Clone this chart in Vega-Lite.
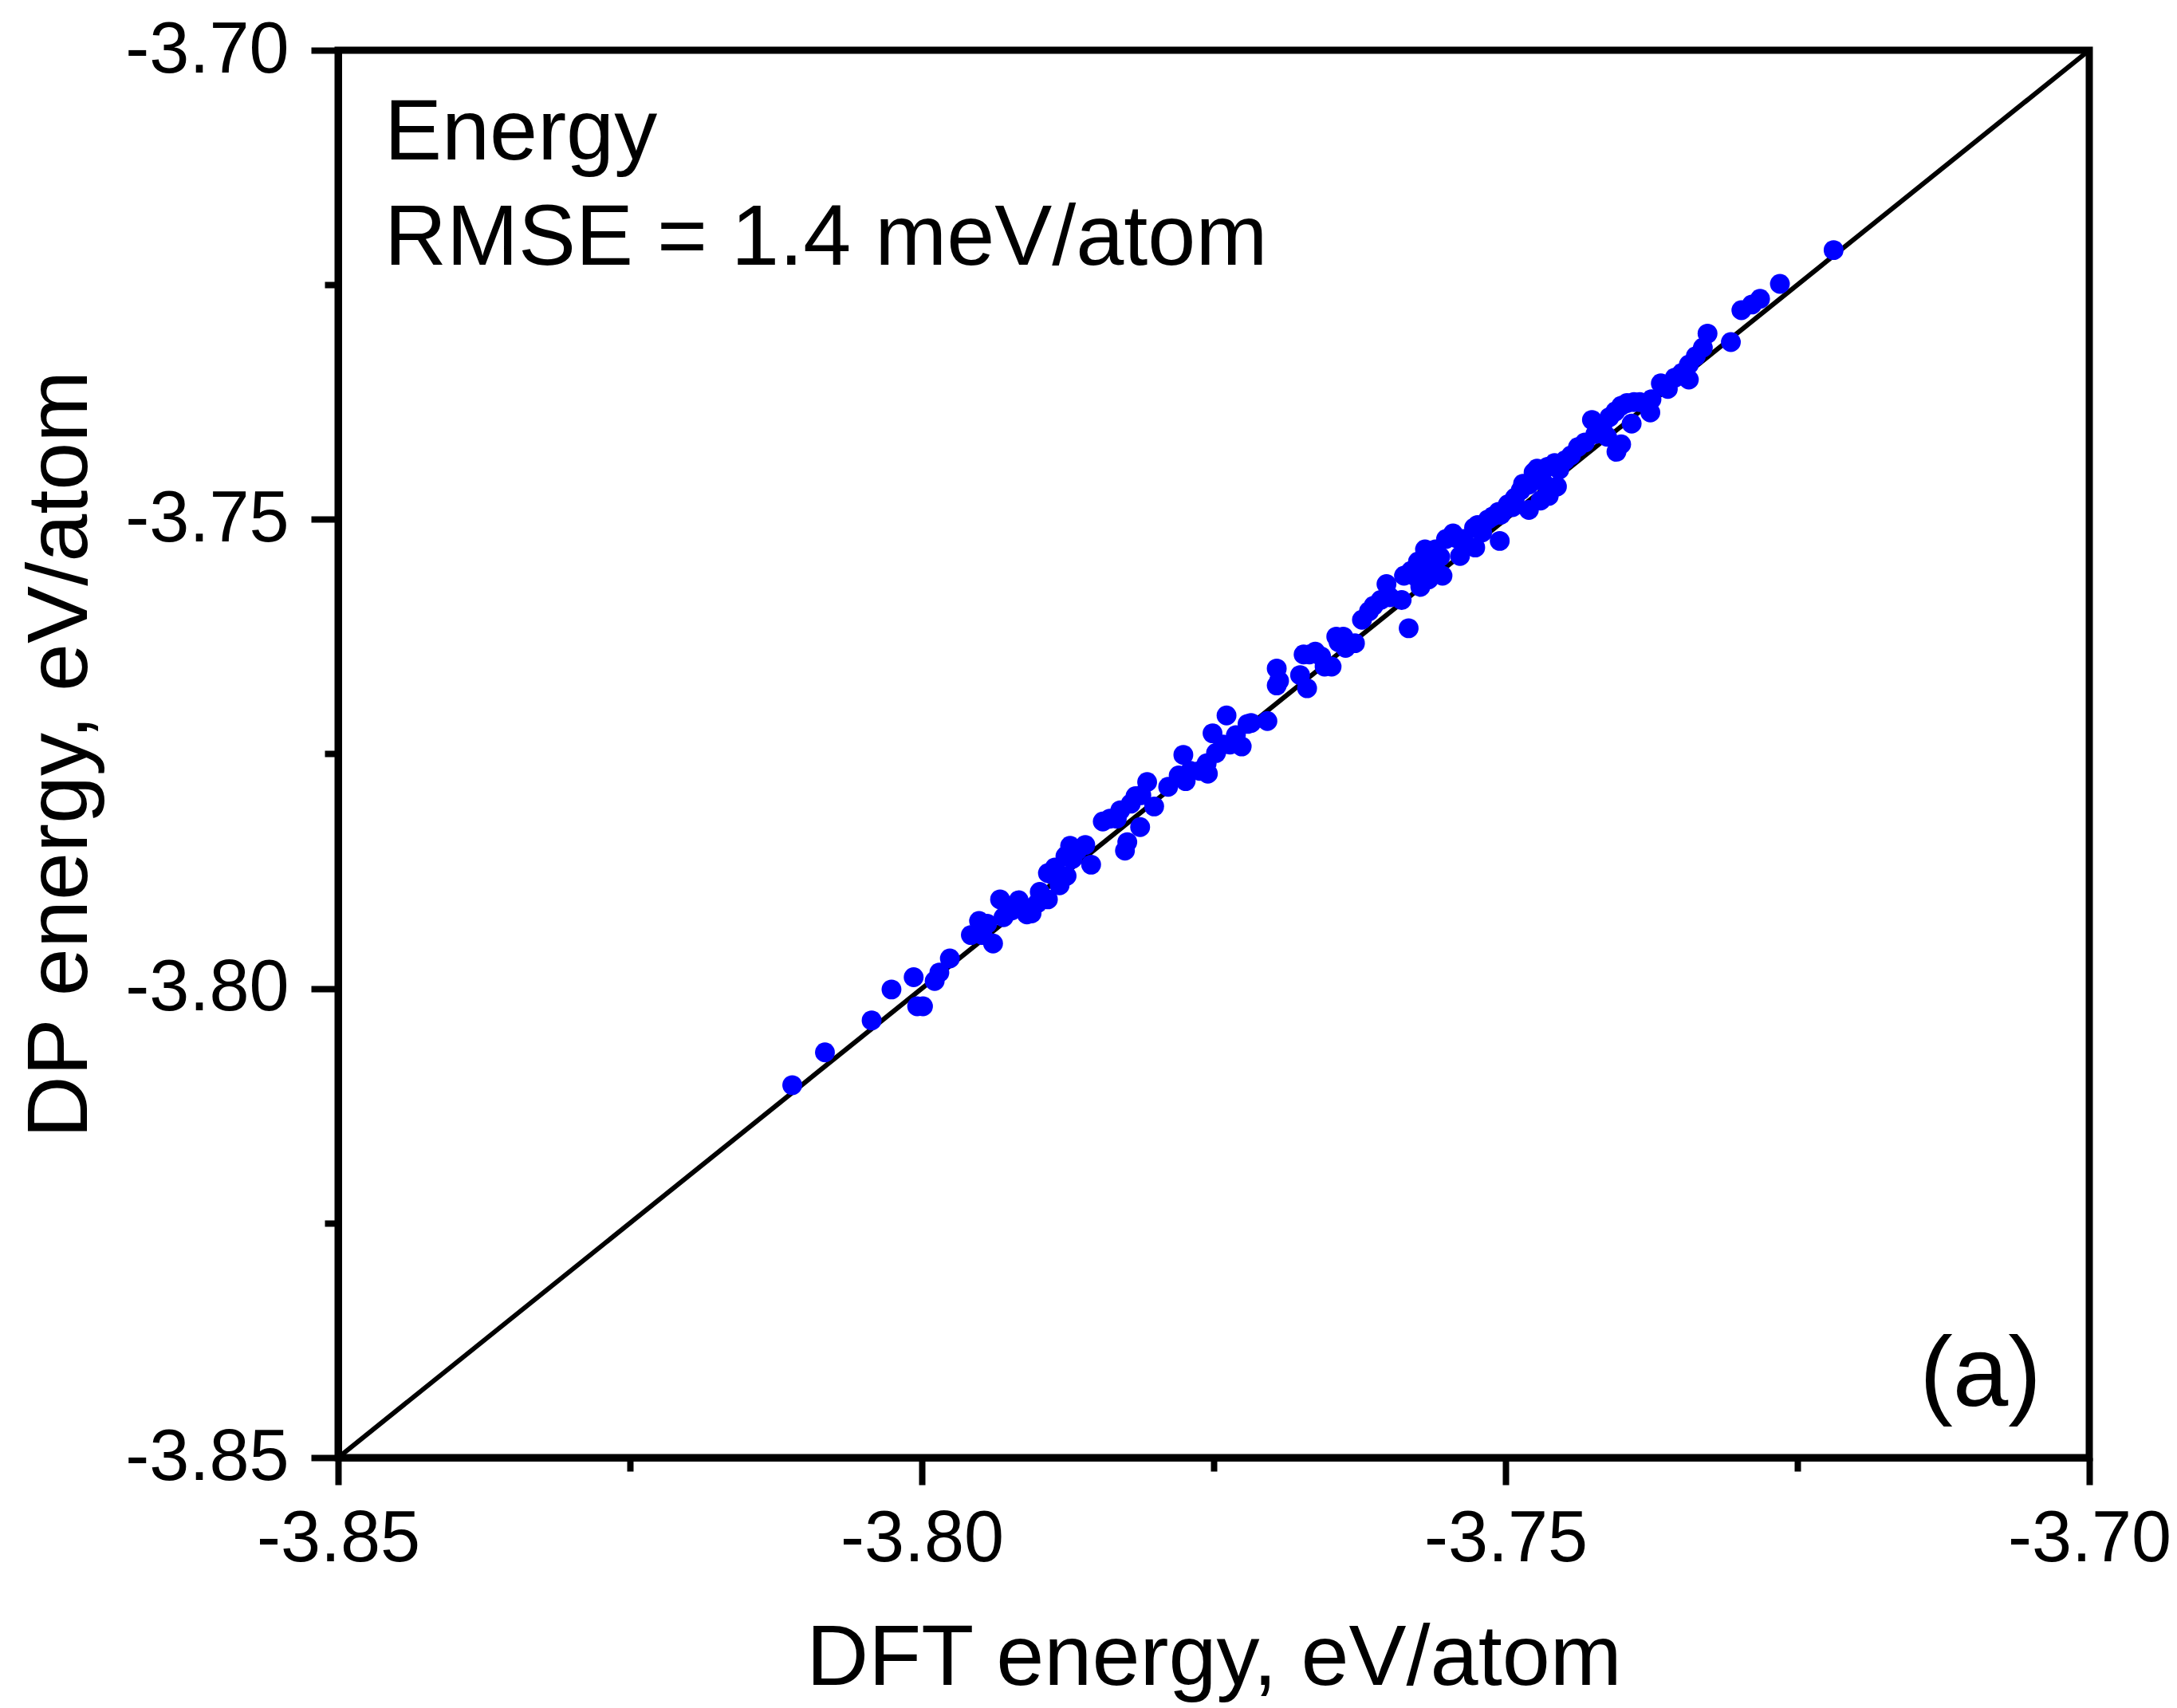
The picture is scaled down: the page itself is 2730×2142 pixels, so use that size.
{
  "$schema": "https://vega.github.io/schema/vega-lite/v6.json",
  "width": 2196,
  "height": 1765,
  "autosize": {"type": "none"},
  "padding": {"left": 424, "top": 63, "right": 110, "bottom": 314},
  "background": "white",
  "config": {
    "view": {"stroke": "black", "strokeWidth": 9},
    "font": "Liberation Sans",
    "axis": {
      "grid": false,
      "domainColor": "black",
      "domainWidth": 9,
      "tickColor": "black",
      "tickWidth": 8,
      "labelColor": "black",
      "labelFont": "Liberation Sans",
      "labelFontSize": 90,
      "labelLimit": 1000,
      "titleFont": "Liberation Sans",
      "titleFontSize": 108,
      "titleFontWeight": "normal",
      "titleColor": "black",
      "titleLimit": 3000
    }
  },
  "resolve": {"axis": {"x": "independent", "y": "independent"}},
  "layer": [
    {
      "data": {"values": [{"dft": -3.85, "dp": -3.85}, {"dft": -3.70, "dp": -3.70}]},
      "mark": {"type": "line", "color": "black", "strokeWidth": 6, "clip": true},
      "encoding": {
        "x": {
          "field": "dft", "type": "quantitative",
          "scale": {"domain": [-3.85, -3.70], "nice": false, "zero": false},
          "axis": {
            "orient": "bottom",
            "title": "DFT energy, eV/atom",
            "values": [-3.85, -3.80, -3.75, -3.70],
            "format": ".2f",
            "labelExpr": "replace(datum.label, '\u2212', '-')",
            "tickSize": 34,
            "labelPadding": 24,
            "labelFlush": false,
            "labelOverlap": false,
            "titleBaseline": "alphabetic",
            "titleY": 284
          }
        },
        "y": {
          "field": "dp", "type": "quantitative",
          "scale": {"domain": [-3.85, -3.70], "nice": false, "zero": false},
          "axis": {
            "orient": "left",
            "title": "DP energy, eV/atom",
            "values": [-3.85, -3.80, -3.75, -3.70],
            "format": ".2f",
            "labelExpr": "replace(datum.label, '\u2212', '-')",
            "tickSize": 34,
            "labelPadding": 28,
            "labelFlush": false,
            "labelOverlap": false,
            "titleBaseline": "alphabetic",
            "titleX": -316
          }
        }
      }
    },
    {
      "data": {"values": [{"dft": -3.85, "dp": -3.85}]},
      "mark": {"type": "point", "opacity": 0},
      "encoding": {
        "x": {
          "field": "dft", "type": "quantitative",
          "scale": {"domain": [-3.85, -3.70], "nice": false, "zero": false},
          "axis": {"orient": "bottom", "title": null, "values": [-3.825, -3.775, -3.725], "labels": false, "domain": false, "tickSize": 17}
        },
        "y": {
          "field": "dp", "type": "quantitative",
          "scale": {"domain": [-3.85, -3.70], "nice": false, "zero": false},
          "axis": {"orient": "left", "title": null, "values": [-3.825, -3.775, -3.725], "labels": false, "domain": false, "tickSize": 17}
        }
      }
    },
    {
      "data": {"values": [
        {"dft": -3.8111, "dp": -3.8103},
        {"dft": -3.8083, "dp": -3.8068},
        {"dft": -3.8043, "dp": -3.8034},
        {"dft": -3.8026, "dp": -3.8001},
        {"dft": -3.8007, "dp": -3.7988},
        {"dft": -3.8004, "dp": -3.8019},
        {"dft": -3.7999, "dp": -3.8019},
        {"dft": -3.7989, "dp": -3.7992},
        {"dft": -3.7985, "dp": -3.7983},
        {"dft": -3.7976, "dp": -3.7968},
        {"dft": -3.7958, "dp": -3.7943},
        {"dft": -3.7951, "dp": -3.7928},
        {"dft": -3.7944, "dp": -3.7931},
        {"dft": -3.7948, "dp": -3.7943},
        {"dft": -3.7939, "dp": -3.7952},
        {"dft": -3.7933, "dp": -3.7905},
        {"dft": -3.7930, "dp": -3.7924},
        {"dft": -3.7923, "dp": -3.7917},
        {"dft": -3.7917, "dp": -3.7906},
        {"dft": -3.7912, "dp": -3.7914},
        {"dft": -3.7910, "dp": -3.7921},
        {"dft": -3.7906, "dp": -3.7920},
        {"dft": -3.7901, "dp": -3.7909},
        {"dft": -3.7899, "dp": -3.7897},
        {"dft": -3.7892, "dp": -3.7877},
        {"dft": -3.7889, "dp": -3.7878},
        {"dft": -3.7886, "dp": -3.7871},
        {"dft": -3.7882, "dp": -3.7890},
        {"dft": -3.7892, "dp": -3.7905},
        {"dft": -3.7876, "dp": -3.7880},
        {"dft": -3.7877, "dp": -3.7859},
        {"dft": -3.7873, "dp": -3.7848},
        {"dft": -3.7871, "dp": -3.7862},
        {"dft": -3.7867, "dp": -3.7853},
        {"dft": -3.7860, "dp": -3.7847},
        {"dft": -3.7855, "dp": -3.7868},
        {"dft": -3.7845, "dp": -3.7822},
        {"dft": -3.7839, "dp": -3.7819},
        {"dft": -3.7833, "dp": -3.7819},
        {"dft": -3.7830, "dp": -3.7810},
        {"dft": -3.7826, "dp": -3.7853},
        {"dft": -3.7824, "dp": -3.7844},
        {"dft": -3.7821, "dp": -3.7803},
        {"dft": -3.7817, "dp": -3.7795},
        {"dft": -3.7812, "dp": -3.7794},
        {"dft": -3.7807, "dp": -3.7780},
        {"dft": -3.7813, "dp": -3.7828},
        {"dft": -3.7801, "dp": -3.7806},
        {"dft": -3.7789, "dp": -3.7785},
        {"dft": -3.7780, "dp": -3.7773},
        {"dft": -3.7776, "dp": -3.7751},
        {"dft": -3.7774, "dp": -3.7779},
        {"dft": -3.7770, "dp": -3.7768},
        {"dft": -3.7762, "dp": -3.7768},
        {"dft": -3.7756, "dp": -3.7760},
        {"dft": -3.7755, "dp": -3.7771},
        {"dft": -3.7751, "dp": -3.7728},
        {"dft": -3.7748, "dp": -3.7749},
        {"dft": -3.7742, "dp": -3.7740},
        {"dft": -3.7739, "dp": -3.7709},
        {"dft": -3.7736, "dp": -3.7740},
        {"dft": -3.7731, "dp": -3.7730},
        {"dft": -3.7726, "dp": -3.7742},
        {"dft": -3.7721, "dp": -3.7718},
        {"dft": -3.7718, "dp": -3.7717},
        {"dft": -3.7704, "dp": -3.7715},
        {"dft": -3.7696, "dp": -3.7659},
        {"dft": -3.7696, "dp": -3.7677},
        {"dft": -3.7694, "dp": -3.7672},
        {"dft": -3.7676, "dp": -3.7666},
        {"dft": -3.7673, "dp": -3.7644},
        {"dft": -3.7668, "dp": -3.7644},
        {"dft": -3.7670, "dp": -3.7680},
        {"dft": -3.7663, "dp": -3.7641},
        {"dft": -3.7658, "dp": -3.7646},
        {"dft": -3.7655, "dp": -3.7657},
        {"dft": -3.7649, "dp": -3.7657},
        {"dft": -3.7645, "dp": -3.7625},
        {"dft": -3.7643, "dp": -3.7631},
        {"dft": -3.7639, "dp": -3.7625},
        {"dft": -3.7637, "dp": -3.7637},
        {"dft": -3.7629, "dp": -3.7632},
        {"dft": -3.7623, "dp": -3.7607},
        {"dft": -3.7617, "dp": -3.7598},
        {"dft": -3.7613, "dp": -3.7592},
        {"dft": -3.7607, "dp": -3.7586},
        {"dft": -3.7602, "dp": -3.7569},
        {"dft": -3.7599, "dp": -3.7583},
        {"dft": -3.7589, "dp": -3.7586},
        {"dft": -3.7583, "dp": -3.7616},
        {"dft": -3.7587, "dp": -3.7560},
        {"dft": -3.7581, "dp": -3.7555},
        {"dft": -3.7577, "dp": -3.7561},
        {"dft": -3.7575, "dp": -3.7545},
        {"dft": -3.7573, "dp": -3.7572},
        {"dft": -3.7569, "dp": -3.7532},
        {"dft": -3.7568, "dp": -3.7540},
        {"dft": -3.7566, "dp": -3.7564},
        {"dft": -3.7563, "dp": -3.7551},
        {"dft": -3.7560, "dp": -3.7532},
        {"dft": -3.7556, "dp": -3.7540},
        {"dft": -3.7554, "dp": -3.7560},
        {"dft": -3.7551, "dp": -3.7521},
        {"dft": -3.7545, "dp": -3.7515},
        {"dft": -3.7542, "dp": -3.7520},
        {"dft": -3.7539, "dp": -3.7539},
        {"dft": -3.7536, "dp": -3.7521},
        {"dft": -3.7527, "dp": -3.7509},
        {"dft": -3.7526, "dp": -3.7530},
        {"dft": -3.7524, "dp": -3.7506},
        {"dft": -3.7520, "dp": -3.7514},
        {"dft": -3.7515, "dp": -3.7500},
        {"dft": -3.7511, "dp": -3.7497},
        {"dft": -3.7506, "dp": -3.7492},
        {"dft": -3.7505, "dp": -3.7523},
        {"dft": -3.7504, "dp": -3.7495},
        {"dft": -3.7498, "dp": -3.7484},
        {"dft": -3.7494, "dp": -3.7487},
        {"dft": -3.7492, "dp": -3.7477},
        {"dft": -3.7487, "dp": -3.7469},
        {"dft": -3.7485, "dp": -3.7462},
        {"dft": -3.7480, "dp": -3.7463},
        {"dft": -3.7480, "dp": -3.7490},
        {"dft": -3.7476, "dp": -3.7450},
        {"dft": -3.7473, "dp": -3.7446},
        {"dft": -3.7470, "dp": -3.7480},
        {"dft": -3.7468, "dp": -3.7460},
        {"dft": -3.7464, "dp": -3.7444},
        {"dft": -3.7463, "dp": -3.7475},
        {"dft": -3.7458, "dp": -3.7440},
        {"dft": -3.7456, "dp": -3.7465},
        {"dft": -3.7454, "dp": -3.7447},
        {"dft": -3.7449, "dp": -3.7437},
        {"dft": -3.7444, "dp": -3.7432},
        {"dft": -3.7438, "dp": -3.7423},
        {"dft": -3.7432, "dp": -3.7418},
        {"dft": -3.7426, "dp": -3.7394},
        {"dft": -3.7423, "dp": -3.7409},
        {"dft": -3.7417, "dp": -3.7400},
        {"dft": -3.7413, "dp": -3.7412},
        {"dft": -3.7411, "dp": -3.7391},
        {"dft": -3.7406, "dp": -3.7385},
        {"dft": -3.7401, "dp": -3.7379},
        {"dft": -3.7405, "dp": -3.7428},
        {"dft": -3.7401, "dp": -3.7420},
        {"dft": -3.7396, "dp": -3.7376},
        {"dft": -3.7392, "dp": -3.7398},
        {"dft": -3.7390, "dp": -3.7375},
        {"dft": -3.7385, "dp": -3.7375},
        {"dft": -3.7379, "dp": -3.7376},
        {"dft": -3.7376, "dp": -3.7386},
        {"dft": -3.7375, "dp": -3.7372},
        {"dft": -3.7367, "dp": -3.7355},
        {"dft": -3.7361, "dp": -3.7361},
        {"dft": -3.7355, "dp": -3.7349},
        {"dft": -3.7349, "dp": -3.7344},
        {"dft": -3.7343, "dp": -3.7335},
        {"dft": -3.7343, "dp": -3.7351},
        {"dft": -3.7337, "dp": -3.7326},
        {"dft": -3.7331, "dp": -3.7317},
        {"dft": -3.7327, "dp": -3.7302},
        {"dft": -3.7307, "dp": -3.7311},
        {"dft": -3.7298, "dp": -3.7277},
        {"dft": -3.7289, "dp": -3.7271},
        {"dft": -3.7282, "dp": -3.7265},
        {"dft": -3.7265, "dp": -3.7249},
        {"dft": -3.7219, "dp": -3.7213}
      ]},
      "mark": {"type": "circle", "color": "#0000FF", "opacity": 1, "size": 620},
      "encoding": {
        "x": {"field": "dft", "type": "quantitative", "scale": {"domain": [-3.85, -3.70], "nice": false, "zero": false}, "axis": null},
        "y": {"field": "dp", "type": "quantitative", "scale": {"domain": [-3.85, -3.70], "nice": false, "zero": false}, "axis": null}
      }
    },
    {
      "data": {"values": [
        {"tx": -3.84604, "ty": -3.71165, "label": "Energy"},
        {"tx": -3.84604, "ty": -3.72287, "label": "RMSE = 1.4 meV/atom"}
      ]},
      "mark": {"type": "text", "align": "left", "baseline": "alphabetic", "fontSize": 108, "font": "Liberation Sans", "color": "black"},
      "encoding": {
        "x": {"field": "tx", "type": "quantitative", "scale": {"domain": [-3.85, -3.70], "nice": false, "zero": false}, "axis": null},
        "y": {"field": "ty", "type": "quantitative", "scale": {"domain": [-3.85, -3.70], "nice": false, "zero": false}, "axis": null},
        "text": {"field": "label"}
      }
    },
    {
      "data": {"values": [{"tx": -3.70410, "ty": -3.84448, "label": "(a)"}]},
      "mark": {"type": "text", "align": "right", "baseline": "alphabetic", "fontSize": 125, "font": "Liberation Sans", "color": "black"},
      "encoding": {
        "x": {"field": "tx", "type": "quantitative", "scale": {"domain": [-3.85, -3.70], "nice": false, "zero": false}, "axis": null},
        "y": {"field": "ty", "type": "quantitative", "scale": {"domain": [-3.85, -3.70], "nice": false, "zero": false}, "axis": null},
        "text": {"field": "label"}
      }
    }
  ]
}
